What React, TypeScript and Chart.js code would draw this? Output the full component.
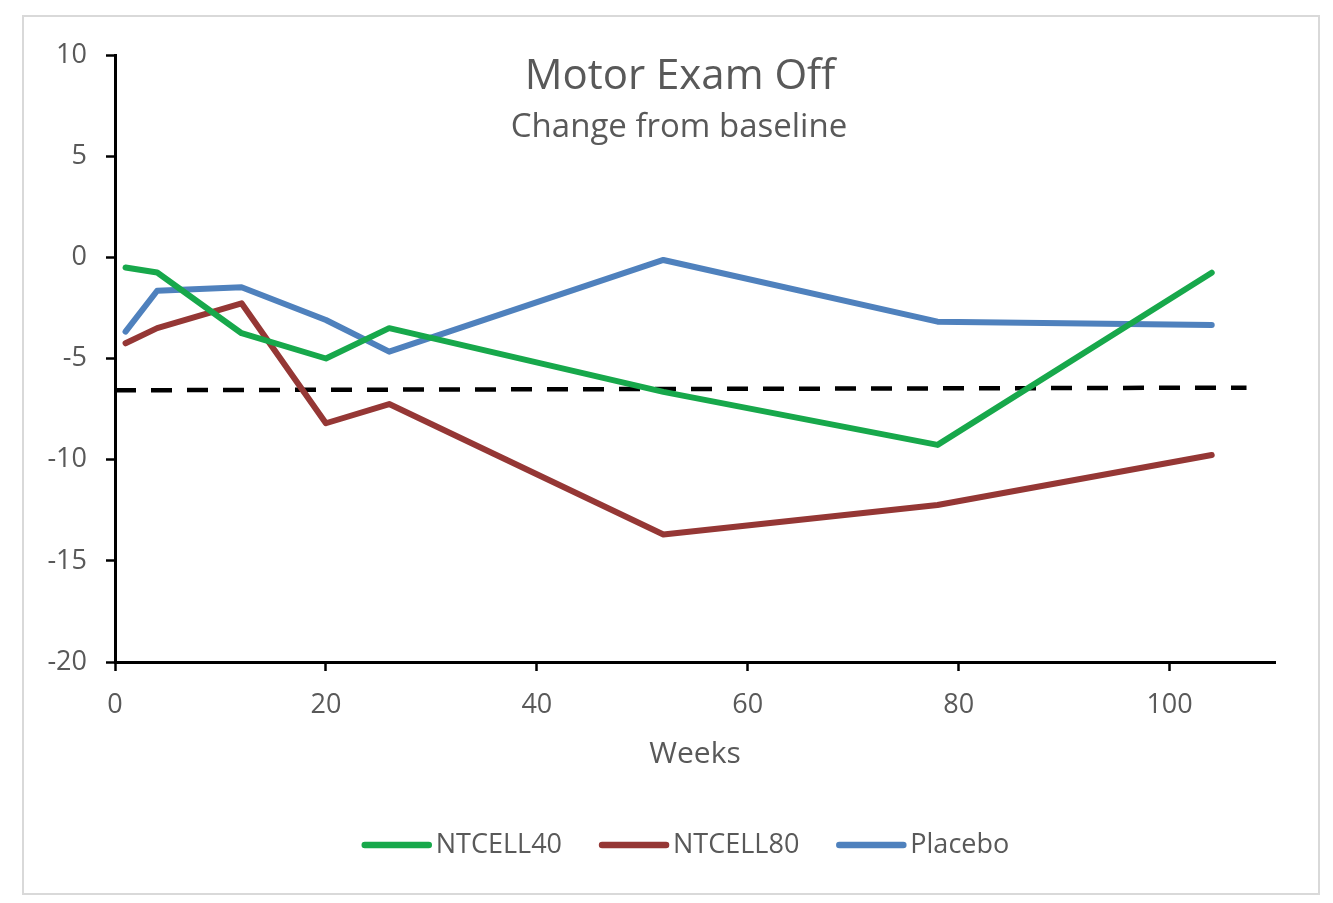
import React, { useEffect, useRef } from "react";
import { Chart, registerables } from "chart.js";

Chart.register(...registerables);

const weeks = [1, 4, 12, 20, 26, 52, 78, 104];
const ntcell40 = [-0.5, -0.75, -3.75, -5.0, -3.5, -6.65, -9.27, -0.76];
const ntcell80 = [-4.25, -3.5, -2.27, -8.2, -7.25, -13.7, -12.24, -9.77];
const placebo = [-3.67, -1.65, -1.48, -3.1, -4.66, -0.13, -3.18, -3.34];
const refLineX = [0, 107.3];
const refLineY = [-6.57, -6.44];

const seriesNames = ["NTCELL40", "NTCELL80", "Placebo"];
const seriesColors = ["#17a84b", "#953735", "#4f81bd"];

const xTicks = [0, 20, 40, 60, 80, 100];
const yTicks = [-20, -15, -10, -5, 0, 5, 10];

const titleText = "Motor Exam Off";
const subtitleText = "Change from baseline";
const xAxisTitle = "Weeks";

const FONT = "'Open Sans', 'DejaVu Sans', sans-serif";
const GRAY = "#595959";

const titlePlugin = {
  id: "innerTitle",
  afterDraw(chart: any) {
    const ctx = chart.ctx;
    ctx.save();
    ctx.fillStyle = GRAY;
    ctx.textAlign = "center";
    ctx.textBaseline = "middle";
    ctx.font = `42px ${FONT}`;
    ctx.fillText(titleText, 658, 62);
    ctx.font = `33px ${FONT}`;
    ctx.fillText(subtitleText, 657, 113);

    // legend
    const lineLen = 70;
    const gap = 4;
    const itemGap = 37;
    ctx.font = `27px ${FONT}`;
    const widths = seriesNames.map((n) => ctx.measureText(n).width);
    const total =
      widths.reduce((a, w) => a + lineLen + gap + w, 0) + itemGap * (seriesNames.length - 1);
    let x = 663.5 - total / 2;
    const y = 830;
    seriesNames.forEach((name, i) => {
      ctx.strokeStyle = seriesColors[i];
      ctx.lineWidth = 6.5;
      ctx.lineCap = "round";
      ctx.beginPath();
      ctx.moveTo(x + 3, y);
      ctx.lineTo(x + lineLen - 3, y);
      ctx.stroke();
      ctx.fillStyle = GRAY;
      ctx.textAlign = "left";
      ctx.textBaseline = "middle";
      ctx.fillText(name, x + lineLen + gap, y);
      x += lineLen + gap + widths[i] + itemGap;
    });
    ctx.restore();
  },
};

export default function App() {
  const ref = useRef<HTMLCanvasElement | null>(null);

  useEffect(() => {
    if (!ref.current) return;
    const series = [ntcell40, ntcell80, placebo];
    const datasets: any[] = series.map((vals, i) => ({
      label: seriesNames[i],
      data: weeks.map((w, j) => ({ x: w, y: vals[j] })),
      borderColor: seriesColors[i],
      backgroundColor: seriesColors[i],
      borderWidth: 6,
      pointRadius: 0,
      borderCapStyle: "round",
      borderJoinStyle: "round",
      tension: 0,
    }));
    datasets.push({
      label: "ref",
      data: refLineX.map((x, j) => ({ x, y: refLineY[j] })),
      borderColor: "#000",
      borderWidth: 4.5,
      borderDash: [21, 15],
      pointRadius: 0,
      tension: 0,
    });

    const chart = new Chart(ref.current, {
      type: "line",
      data: { datasets },
      plugins: [titlePlugin],
      options: {
        animation: false,
        responsive: false,
        layout: { padding: { left: 0, top: 40, right: 43, bottom: 69 } },
        plugins: {
          title: { display: false },
          tooltip: { enabled: false },
          legend: { display: false },
        },
        scales: {
          x: {
            type: "linear",
            min: 0,
            max: 110,
            afterFit: (s: any) => {
              s.height = 162;
            },
            afterBuildTicks: (s: any) => {
              s.ticks = xTicks.map((v) => ({ value: v }));
            },
            ticks: {
              color: GRAY,
              font: { family: FONT, size: 27 },
              padding: 18,
              maxRotation: 0,
            },
            grid: {
              display: true,
              drawOnChartArea: false,
              drawTicks: true,
              tickLength: 9,
              tickColor: "#000",
              tickWidth: 2.5,
              color: "#000",
            },
            border: { display: true, color: "#000", width: 3 },
            title: {
              display: true,
              text: xAxisTitle,
              color: GRAY,
              font: { family: FONT, size: 30 },
              padding: { top: 0, bottom: 52 },
            },
          },
          y: {
            type: "linear",
            min: -20,
            max: 10,
            afterFit: (s: any) => {
              s.width = 93;
            },
            afterBuildTicks: (s: any) => {
              s.ticks = yTicks.map((v) => ({ value: v }));
            },
            ticks: {
              color: GRAY,
              font: { family: FONT, size: 27 },
              padding: 19,
            },
            grid: {
              display: true,
              drawOnChartArea: false,
              drawTicks: true,
              tickLength: 9,
              tickColor: "#000",
              tickWidth: 2.5,
              color: "#000",
            },
            border: { display: true, color: "#000", width: 3 },
          },
        },
      },
    });
    return () => chart.destroy();
  }, []);

  return (
    <div style={{ position: "absolute", left: 0, top: 0, width: 1333, height: 903, background: "#fff" }}>
      <div
        style={{
          position: "absolute",
          left: 22,
          top: 15,
          width: 1298,
          height: 880,
          border: "2px solid #d9d9d9",
          boxSizing: "border-box",
        }}
      />
      <canvas
        ref={ref}
        width={1296}
        height={878}
        style={{ position: "absolute", left: 22, top: 15, width: 1296, height: 878 }}
      />
    </div>
  );
}
